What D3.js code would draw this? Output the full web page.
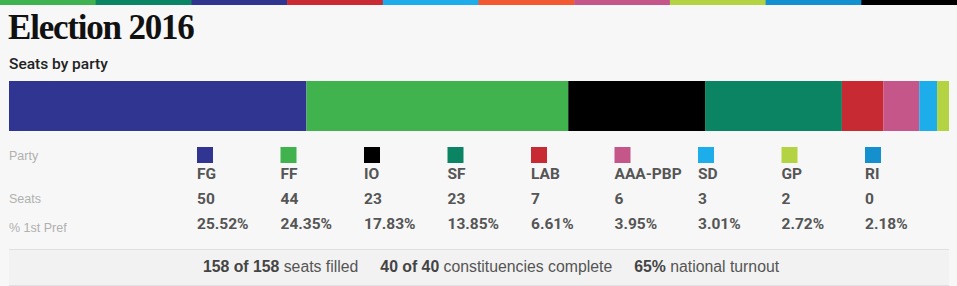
<!doctype html>
<html>
<head>
  <meta charset="utf-8">
  <title>Election 2016</title>
  <script src="https://cdnjs.cloudflare.com/ajax/libs/d3/7.8.5/d3.min.js"></script>
  <style>
  html, body { margin: 0; padding: 0; background: #f7f7f7; }
  svg { display: block; }
  .title { font-family: "Liberation Serif", serif; font-weight: bold; font-size: 35px; letter-spacing: -1.2px; fill: #111; }
  .subtitle { font-family: Roboto, sans-serif; font-weight: 500; font-size: 15.5px; fill: #222; }
  .rowlabel { font-family: "Liberation Sans", Arial, sans-serif; font-size: 12.5px; fill: #b0b0b0; }
  .cell { font-family: Roboto, sans-serif; font-weight: bold; font-size: 15.5px; fill: #555; }
  .footer { font-family: "Liberation Sans", Arial, sans-serif; font-size: 15.8px; fill: #555; }
  .footer .b { font-weight: bold; fill: #444; }
  </style>
</head>
<body>
  <script>
  var parties = ["FG", "FF", "IO", "SF", "LAB", "AAA-PBP", "SD", "GP", "RI"],
    seats = [50, 44, 23, 23, 7, 6, 3, 2, 0],
    firstPref = ["25.52%", "24.35%", "17.83%", "13.85%", "6.61%", "3.95%", "3.01%", "2.72%", "2.18%"],
    partyColors = ["#2f3590", "#40b34f", "#000000", "#0a8462", "#c82a33", "#c4568a", "#1cadea", "#b4d342", "#1490cf"],
    stripColors = ["#3fb34f", "#098563", "#303590", "#c92a34", "#1cadea", "#f15a31", "#c5568a", "#b4d342", "#1390d0", "#000000"],
    rowLabels = ["Party", "Seats", "% 1st Pref"],
    footer = [["158 of 158", " seats filled"], ["40 of 40", " constituencies complete"], ["65%", " national turnout"]];

  var width = 957, height = 286,
    svg = d3.select("body").append("svg")
      .attr("width", width)
      .attr("height", height);

  // colour strip along the top
  var strip = d3.scaleBand()
      .domain(d3.range(stripColors.length))
      .range([0, width]);

  svg.selectAll(".strip")
    .data(stripColors)
  .enter().append("rect")
    .attr("x", function(d, i) { return strip(i); })
    .attr("y", 0)
    .attr("width", strip.bandwidth() + 0.5)
    .attr("height", 5)
    .attr("fill", function(d) { return d; });

  svg.append("text")
    .attr("class", "title")
    .attr("x", 8)
    .attr("y", 39)
    .text("Election 2016");

  svg.append("text")
    .attr("class", "subtitle")
    .attr("x", 9)
    .attr("y", 69)
    .text("Seats by party");

  // stacked seats bar
  var total = d3.sum(seats),
    x = d3.scaleLinear()
      .domain([0, total])
      .range([9, 949]);

  var cum = d3.cumsum(seats);
  var segs = parties.map(function(p, i) {
    return {party: p, x0: cum[i] - seats[i], x1: cum[i], color: partyColors[i]};
  });

  svg.selectAll(".seg")
    .data(segs.filter(function(d) { return d.x1 > d.x0; }))
  .enter().append("rect")
    .attr("class", "seg")
    .attr("x", function(d) { return x(d.x0); })
    .attr("y", 81)
    .attr("width", function(d) { return x(d.x1) - x(d.x0); })
    .attr("height", 50)
    .attr("fill", function(d) { return d.color; });

  // table
  var col = d3.scalePoint()
      .domain(parties)
      .range([197, 865]);

  var rowY = [160, 203, 232];
  svg.selectAll(".rowlabel")
    .data(rowLabels)
  .enter().append("text")
    .attr("class", "rowlabel")
    .attr("x", 9)
    .attr("y", function(d, i) { return rowY[i]; })
    .text(function(d) { return d; });

  var cols = svg.selectAll(".col")
    .data(parties)
  .enter().append("g")
    .attr("class", "col")
    .attr("transform", function(d) { return "translate(" + col(d) + ",0)"; });

  cols.append("rect")
    .attr("y", 147)
    .attr("width", 16)
    .attr("height", 16)
    .attr("fill", function(d, i) { return partyColors[i]; });

  cols.append("text")
    .attr("class", "cell")
    .attr("y", 179)
    .text(function(d) { return d; });

  cols.append("text")
    .attr("class", "cell")
    .attr("y", 204)
    .text(function(d, i) { return seats[i]; });

  cols.append("text")
    .attr("class", "cell")
    .attr("y", 229)
    .text(function(d, i) { return firstPref[i]; });

  // footer
  svg.append("rect")
    .attr("x", 9)
    .attr("y", 249)
    .attr("width", 940)
    .attr("height", 36)
    .attr("fill", "#f2f2f2");

  svg.selectAll(".rule")
    .data([249.5, 285.5])
  .enter().append("line")
    .attr("x1", 9)
    .attr("x2", 949)
    .attr("y1", function(d) { return d; })
    .attr("y2", function(d) { return d; })
    .attr("stroke", "#e0e0e0");

  var ft = svg.append("text")
    .attr("class", "footer")
    .attr("x", 491)
    .attr("y", 272)
    .attr("text-anchor", "middle");

  footer.forEach(function(f, i) {
    ft.append("tspan")
      .attr("class", "b")
      .attr("dx", i ? 22 : 0)
      .text(f[0]);
    ft.append("tspan")
      .text(f[1]);
  });
  </script>
</body>
</html>
